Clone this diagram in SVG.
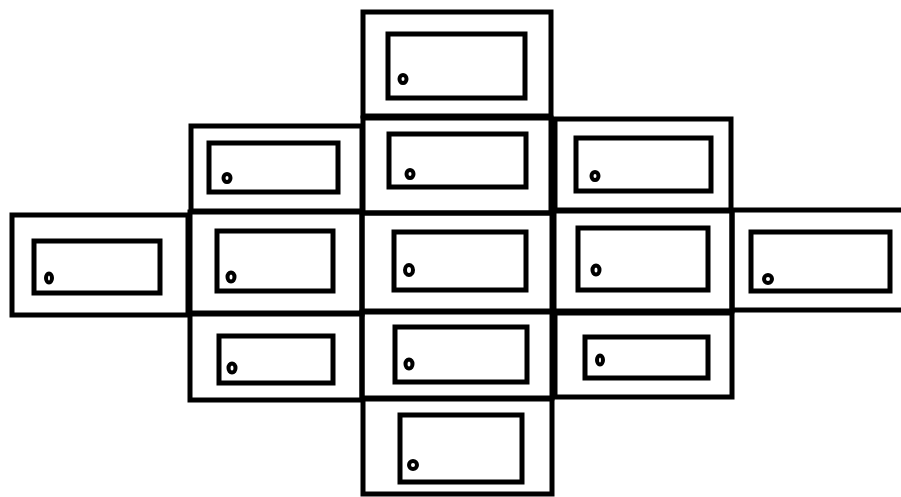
<svg xmlns="http://www.w3.org/2000/svg" width="901" height="497" viewBox="0 0 901 497">
<style>
.o{fill:none;stroke:#000;stroke-width:5}
.i{fill:none;stroke:#000;stroke-width:5}
.c{fill:none;stroke:#000;stroke-width:4}
</style>
<rect width="901" height="497" fill="#fff"/>
<g id="n-top"><rect class="o" x="363" y="12" width="188" height="104"/><rect class="i" x="388" y="34" width="137" height="64"/><ellipse class="c" cx="403" cy="79" rx="3.5" ry="4"/></g>
<g id="n-r2-left"><rect class="o" x="191" y="126" width="171" height="85"/><rect class="i" x="209" y="143" width="129" height="49"/><ellipse class="c" cx="227" cy="178" rx="3.5" ry="4"/></g>
<g id="n-r2-center"><rect class="o" x="363" y="118" width="188" height="95"/><rect class="i" x="389" y="134" width="137" height="53"/><ellipse class="c" cx="410" cy="174" rx="3.5" ry="4"/></g>
<g id="n-r2-right"><rect class="o" x="555" y="119" width="176" height="91"/><rect class="i" x="576" y="138" width="135" height="53"/><ellipse class="c" cx="595" cy="176" rx="3.5" ry="4"/></g>
<g id="n-r3-1"><rect class="o" x="12" y="215" width="176" height="100"/><rect class="i" x="34" y="241" width="126" height="52"/><ellipse class="c" cx="49" cy="278" rx="3" ry="4.5"/></g>
<g id="n-r3-2"><rect class="o" x="190" y="212" width="172" height="102"/><rect class="i" x="217" y="231" width="116" height="60"/><ellipse class="c" cx="231" cy="277" rx="3.5" ry="4.5"/></g>
<g id="n-r3-3"><rect class="o" x="362" y="213" width="190" height="98"/><rect class="i" x="394" y="232" width="132" height="58"/><ellipse class="c" cx="409" cy="270" rx="4" ry="5"/></g>
<g id="n-r3-4"><rect class="o" x="554" y="211" width="178" height="100"/><rect class="i" x="578" y="228" width="130" height="62"/><ellipse class="c" cx="596" cy="270" rx="3.5" ry="4.5"/></g>
<g id="n-r3-5"><rect class="o" x="732" y="210" width="180" height="100"/><rect class="i" x="751" y="232" width="139" height="59"/><ellipse class="c" cx="768" cy="279" rx="4" ry="4"/></g>
<g id="n-r4-left"><rect class="o" x="190" y="313" width="172" height="87"/><rect class="i" x="219" y="336" width="114" height="47"/><ellipse class="c" cx="232" cy="368" rx="3.5" ry="4.5"/></g>
<g id="n-r4-center"><rect class="o" x="362" y="312" width="190" height="86"/><rect class="i" x="395" y="327" width="132" height="55"/><ellipse class="c" cx="409" cy="364" rx="3.5" ry="4.5"/></g>
<g id="n-r4-right"><rect class="o" x="555" y="313" width="177" height="84"/><rect class="i" x="585" y="337" width="123" height="41"/><ellipse class="c" cx="600" cy="360" rx="3" ry="4.5"/></g>
<g id="n-bottom"><rect class="o" x="363" y="399" width="189" height="95"/><rect class="i" x="400" y="415" width="122" height="67"/><ellipse class="c" cx="413" cy="465" rx="4" ry="4"/></g>
<g id="connectors"></g>
</svg>
